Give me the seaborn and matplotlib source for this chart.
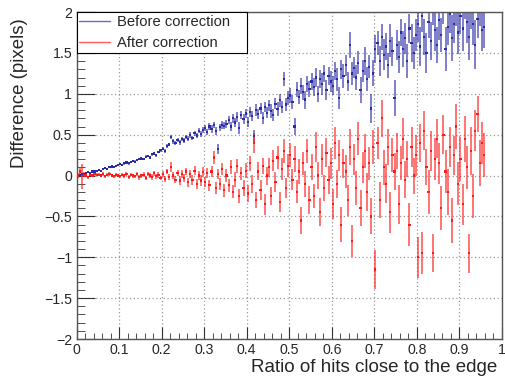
import numpy as np
import pandas as pd
import matplotlib
matplotlib.use("Agg")
import matplotlib.pyplot as plt
from matplotlib.lines import Line2D
from matplotlib.ticker import MultipleLocator
import seaborn as sns

# bin centres (ratio of hits close to the edge)
x_bins = np.round(0.0025 + 0.005 * np.arange(192), 4)

before_y = [
    0.00, 0.01, 0.02, 0.02, 0.03, 0.04, 0.03, 0.05, 0.05, 0.06,
    0.07, 0.06, 0.08, 0.09, 0.08, 0.10, 0.11, 0.10, 0.12, 0.13,
    0.14, 0.13, 0.15, 0.16, 0.15, 0.17, 0.18, 0.17, 0.19, 0.20,
    0.21, 0.20, 0.23, 0.24, 0.22, 0.26, 0.27, 0.25, 0.29, 0.31,
    0.33, 0.30, 0.36, 0.38, 0.47, 0.42, 0.40, 0.44, 0.41, 0.45,
    0.43, 0.47, 0.45, 0.50, 0.46, 0.52, 0.49, 0.55, 0.51, 0.56,
    0.58, 0.53, 0.60, 0.57, 0.62, 0.55, 0.33, 0.59, 0.62, 0.61,
    0.63, 0.68, 0.60, 0.70, 0.65, 0.72, 0.58, 0.74, 0.69, 0.76,
    0.66, 0.78, 0.73, 0.48, 0.80, 0.75, 0.82, 0.70, 0.84, 0.77,
    0.86, 0.79, 0.74, 0.88, 0.81, 0.92, 0.84, 1.18, 0.87, 0.95,
    0.98, 0.90, 0.60, 1.05, 0.96, 1.10, 1.02, 0.93, 1.12, 1.06,
    1.15, 1.08, 1.20, 1.00, 1.18, 1.12, 1.25, 1.05, 1.22, 1.15,
    1.10, 1.28, 1.18, 0.95, 1.30, 1.22, 1.35, 1.15, 1.60, 1.25,
    1.32, 1.20, 1.38, 1.05, 1.28, 1.40, 1.18, 1.33, 0.82, 1.25,
    1.55, 1.62, 1.40, 1.70, 1.48, 1.58, 1.35, 1.65, 1.52, 0.95,
    1.60, 1.45, 1.75, 1.55, 1.68, 1.40, 1.80, 1.62, 1.50, 1.72,
    1.85, 1.58, 1.95, 1.70, 1.50, 1.88, 1.65, 2.05, 1.78, 1.60,
    1.90, 1.72, 2.10, 1.55, 1.82, 1.98, 1.68, 1.85, 2.08, 1.75,
    1.95, 1.80, 2.15, 1.88, 1.70, 2.02, 1.85, 1.60, 1.92, 2.10,
    1.78, 1.82,
]
before_err = [
    0.02, 0.01, 0.01, 0.01, 0.01, 0.01, 0.01, 0.01, 0.01, 0.01,
    0.01, 0.01, 0.01, 0.01, 0.01, 0.01, 0.01, 0.01, 0.01, 0.01,
    0.01, 0.01, 0.015, 0.01, 0.015, 0.01, 0.015, 0.015, 0.01, 0.015,
    0.015, 0.015, 0.02, 0.015, 0.02, 0.015, 0.02, 0.02, 0.015, 0.02,
    0.02, 0.02, 0.025, 0.02, 0.025, 0.03, 0.02, 0.025, 0.03, 0.025,
    0.03, 0.025, 0.03, 0.035, 0.03, 0.03, 0.035, 0.03, 0.04, 0.035,
    0.04, 0.035, 0.04, 0.045, 0.04, 0.05, 0.06, 0.045, 0.05, 0.045,
    0.05, 0.045, 0.05, 0.055, 0.05, 0.06, 0.07, 0.05, 0.06, 0.055,
    0.06, 0.065, 0.06, 0.08, 0.07, 0.06, 0.07, 0.075, 0.06, 0.07,
    0.07, 0.08, 0.075, 0.07, 0.085, 0.08, 0.07, 0.09, 0.08, 0.085,
    0.09, 0.08, 0.10, 0.09, 0.085, 0.10, 0.09, 0.11, 0.095, 0.10,
    0.10, 0.11, 0.12, 0.10, 0.11, 0.13, 0.10, 0.12, 0.11, 0.13,
    0.12, 0.11, 0.14, 0.13, 0.12, 0.15, 0.13, 0.12, 0.16, 0.14,
    0.13, 0.15, 0.14, 0.16, 0.13, 0.17, 0.15, 0.14, 0.18, 0.16,
    0.17, 0.15, 0.18, 0.16, 0.19, 0.17, 0.15, 0.20, 0.18, 0.22,
    0.18, 0.20, 0.17, 0.22, 0.19, 0.21, 0.18, 0.23, 0.20, 0.19,
    0.21, 0.24, 0.19, 0.22, 0.25, 0.20, 0.23, 0.21, 0.26, 0.22,
    0.24, 0.21, 0.25, 0.27, 0.22, 0.24, 0.28, 0.23, 0.25, 0.26,
    0.22, 0.27, 0.24, 0.26, 0.29, 0.23, 0.25, 0.30, 0.24, 0.27,
    0.25, 0.26,
]
after_y = [
    0.00, 0.05, -0.01, 0.01, 0.00, -0.02, 0.01, 0.00, 0.02, 0.01,
    0.01, 0.00, 0.02, -0.01, 0.01, 0.02, 0.00, -0.01, 0.01, 0.00,
    -0.01, 0.01, 0.00, 0.02, -0.02, 0.01, 0.00, -0.01, 0.02, -0.02,
    0.00, 0.01, -0.03, 0.02, 0.00, -0.02, 0.03, -0.01, 0.01, -0.03,
    0.02, -0.04, 0.05, -0.02, 0.10, 0.00, -0.05, 0.03, -0.06, 0.02,
    -0.03, 0.05, -0.08, 0.02, -0.05, 0.06, -0.10, 0.00, -0.06, 0.04,
    -0.08, 0.03, -0.12, 0.05, 0.22, -0.15, 0.02, -0.10, 0.08, -0.18,
    0.00, -0.12, 0.10, -0.20, -0.05, 0.12, -0.25, 0.03, -0.15, 0.06,
    -0.22, 0.15, -0.10, 0.40, -0.30, 0.05, -0.18, 0.12, -0.35, 0.00,
    0.10, -0.25, 0.18, -0.08, 0.22, -0.32, 0.08, 0.30, -0.15, 0.12,
    0.25, -0.05, 0.20, -0.20, 0.05, -0.55, 0.15, -0.10, 0.30, -0.30,
    0.10, -0.25, 0.35, 0.00, -0.45, 0.20, -0.15, 0.28, -0.05, 0.15,
    -0.35, 0.40, -0.10, 0.25, -0.60, 0.15, 0.05, -0.30, 0.35, -0.80,
    0.20, -0.15, 0.45, -0.40, 0.10, 0.30, -0.20, 0.15, -0.50, 0.35,
    -1.15, 0.40, -0.30, 0.70, 0.10, -0.10, 0.35, -0.45, 0.25, 0.05,
    0.30, -0.35, 0.15, 0.45, -0.05, 0.20, -0.60, 0.35, 0.00, 0.25,
    -1.00, 0.40, -0.95, 0.55, 0.10, -0.20, 0.30, -0.95, 0.20, 0.45,
    0.15, -0.40, 0.50, 0.05, -0.20, 0.35, -0.55, 0.25, 0.60, -0.10,
    0.20, -0.35, 0.45, 0.10, -0.95, 0.30, -0.25, 0.55, 0.75, 0.15,
    0.40, 0.25,
]
after_err = [
    0.03, 0.05, 0.15, 0.03, 0.02, 0.02, 0.02, 0.02, 0.02, 0.02,
    0.02, 0.02, 0.02, 0.02, 0.02, 0.02, 0.02, 0.02, 0.02, 0.02,
    0.02, 0.02, 0.025, 0.02, 0.025, 0.02, 0.025, 0.02, 0.025, 0.03,
    0.025, 0.03, 0.03, 0.025, 0.03, 0.035, 0.03, 0.03, 0.035, 0.03,
    0.035, 0.04, 0.035, 0.04, 0.06, 0.04, 0.045, 0.04, 0.05, 0.045,
    0.05, 0.045, 0.055, 0.05, 0.06, 0.055, 0.06, 0.05, 0.065, 0.06,
    0.065, 0.06, 0.07, 0.065, 0.08, 0.07, 0.065, 0.075, 0.07, 0.08,
    0.075, 0.08, 0.085, 0.08, 0.09, 0.085, 0.09, 0.08, 0.095, 0.09,
    0.10, 0.09, 0.11, 0.12, 0.10, 0.11, 0.12, 0.10, 0.13, 0.11,
    0.12, 0.11, 0.13, 0.12, 0.14, 0.12, 0.13, 0.15, 0.12, 0.14,
    0.15, 0.13, 0.16, 0.14, 0.15, 0.17, 0.14, 0.16, 0.15, 0.17,
    0.16, 0.15, 0.18, 0.16, 0.17, 0.19, 0.16, 0.18, 0.17, 0.19,
    0.18, 0.20, 0.17, 0.19, 0.21, 0.18, 0.20, 0.19, 0.22, 0.20,
    0.19, 0.21, 0.20, 0.22, 0.19, 0.21, 0.23, 0.20, 0.22, 0.21,
    0.24, 0.20, 0.22, 0.23, 0.21, 0.24, 0.22, 0.25, 0.21, 0.23,
    0.22, 0.24, 0.21, 0.25, 0.23, 0.22, 0.26, 0.24, 0.22, 0.25,
    0.25, 0.23, 0.26, 0.24, 0.22, 0.27, 0.25, 0.23, 0.26, 0.24,
    0.25, 0.27, 0.24, 0.26, 0.28, 0.25, 0.27, 0.24, 0.28, 0.26,
    0.27, 0.25, 0.28, 0.26, 0.24, 0.29, 0.27, 0.25, 0.22, 0.28,
    0.26, 0.27,
]
series_names = ["Before correction", "After correction"]
x_ticks = [0, 0.1, 0.2, 0.3, 0.4, 0.5, 0.6, 0.7, 0.8, 0.9, 1]
y_ticks = [-2, -1.5, -1, -0.5, 0, 0.5, 1, 1.5, 2]

sns.set_style("white")
plt.rcParams['font.family'] = ['Liberation Sans', 'DejaVu Sans']
plt.rcParams['axes.unicode_minus'] = True

colors = {"Before correction": "#2b2ba6", "After correction": "#ff1a1a"}

df = pd.concat([
    pd.DataFrame({"x": x_bins, "y": before_y, "err": before_err, "series": series_names[0]}),
    pd.DataFrame({"x": x_bins, "y": after_y, "err": after_err, "series": series_names[1]}),
], ignore_index=True)

fig = plt.figure(figsize=(5.05, 3.79), dpi=100)
ax = fig.add_axes([0.1515, 0.1055, 0.8425, 0.8625])

for name in series_names:
    sub = df[df.series == name]
    ax.errorbar(sub.x, sub.y, yerr=sub.err, fmt='none', ecolor=colors[name],
                elinewidth=1.3, alpha=0.65, capsize=0, zorder=2)
sns.scatterplot(data=df, x="x", y="y", hue="series", palette=colors, s=2.5,
                marker='s', linewidth=0, legend=False, ax=ax, zorder=3)

ax.set_xlim(0, 1)
ax.set_ylim(-2, 2)
ax.set_xticks(x_ticks)
ax.set_xticklabels([("%g" % t) for t in x_ticks])
ax.set_yticks(y_ticks)
ax.set_yticklabels([("%g" % t).replace('-', '\u2212') for t in y_ticks])
ax.xaxis.set_minor_locator(MultipleLocator(0.02))
ax.yaxis.set_minor_locator(MultipleLocator(0.1))
ax.tick_params(axis='both', which='both', direction='in', labelsize=10.2,
               color='#333333', top=False, right=False, bottom=True, left=True)
ax.tick_params(axis='x', which='major', length=9, pad=3)
ax.tick_params(axis='x', which='minor', length=4.5)
ax.tick_params(axis='y', which='major', length=13, pad=3)
ax.tick_params(axis='y', which='minor', length=6)
ax.grid(True, which='major', linestyle=(0, (1, 2)), color='#999999', linewidth=0.9)
for sp in ax.spines.values():
    sp.set_color('#555555')
    sp.set_linewidth(1.0)

ax.set_xlabel("Ratio of hits close to the edge", fontsize=13.5, loc='right')
ax.xaxis.set_label_coords(0.988, -0.061)
ax.set_ylabel("Difference (pixels)", fontsize=13.4, loc='top')
ax.yaxis.set_label_coords(-0.113, 0.982)

handles = [Line2D([0], [0], color=colors[n], lw=1.0, alpha=0.7) for n in series_names]
leg = ax.legend(handles, series_names, loc='upper left',
                bbox_to_anchor=(0, 1, 0.4, 0), mode='expand',
                borderaxespad=0, frameon=True, fancybox=False, fontsize=10.6,
                handlelength=2.1, borderpad=0.2, labelspacing=0.5, handletextpad=0.45)
leg.get_frame().set_edgecolor('black')
leg.get_frame().set_linewidth(0.8)
leg.get_frame().set_alpha(1)

fig.savefig("out.png", dpi=100)
